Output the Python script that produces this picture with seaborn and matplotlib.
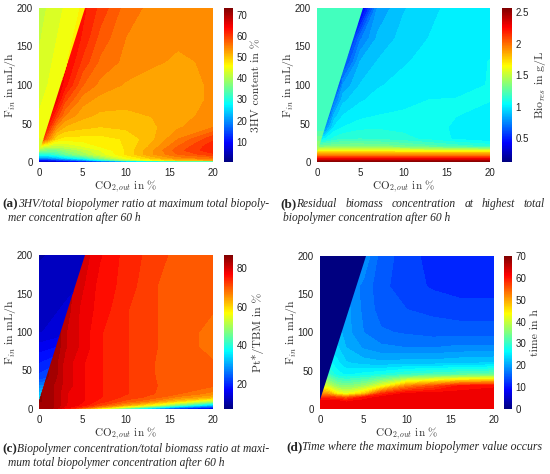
import numpy as np
import matplotlib
matplotlib.use("Agg")
import matplotlib.pyplot as plt
from matplotlib.patches import Polygon
from matplotlib.colors import Normalize, ListedColormap
from matplotlib.cm import ScalarMappable
from matplotlib.ticker import FormatStrFormatter
import seaborn as sns

sns.set_style("white")
plt.rcParams['font.family'] = ['Liberation Sans', 'DejaVu Sans']
plt.rcParams['mathtext.fontset'] = 'cm'

# MATLAB style jet
_f = np.linspace(0, 1, 256)
jet = ListedColormap(np.column_stack([
    np.clip(1.5 - np.abs(4 * _f - 3), 0, 1),
    np.clip(1.5 - np.abs(4 * _f - 2), 0, 1),
    np.clip(1.5 - np.abs(4 * _f - 1), 0, 1),
]))

# grid (CO2_out in %, F_in in mL/h) right of the feed boundary
XS = [0, 1, 2, 3, 5, 7, 10, 13, 16, 20]
YS = [0, 2, 5, 10, 15, 20, 30, 45, 60, 80, 100, 130, 160, 200]
# small grid for the triangle left of the boundary
LX = [0, 2.65, 5.3]
LY = [12, 40, 100, 200]
# boundary triangle
EDGE_X = [0, 0, 5.3]
EDGE_Y = [12, 200, 200]

# (a) 3HV content in %
hv_right = [
    [2, 2, 2, 2, 2, 3, 4, 5, 5, 5],
    [9, 9, 11, 13, 18, 27, 38, 45, 49, 51],
    [20, 20, 22, 25, 30, 37, 45, 50, 54, 56],
    [30, 30, 32, 35, 39, 43, 48, 53, 57, 60],
    [37, 36, 36, 38, 41, 44, 48, 53, 58, 62],
    [44, 42, 41, 42, 44, 46, 48, 52, 57, 62],
    [65, 55, 48, 47, 47, 47, 48, 51, 55, 60],
    [67, 62, 54, 51, 50, 49.5, 50, 51, 53, 55],
    [67, 66, 60, 55, 52, 51, 51, 51.5, 52.5, 54],
    [67, 67, 65, 59, 54, 52.5, 52, 52, 52.5, 53.5],
    [67, 67, 67, 63, 57, 54.5, 53, 52.5, 52.5, 53.5],
    [66, 66, 66, 65, 60, 56.5, 54.5, 53.5, 53, 53.5],
    [65, 65, 65, 65, 62, 58, 55, 54, 53.5, 53.5],
    [63, 63, 63, 63, 63, 60, 56, 54.5, 53.5, 53.5],
]
hv_left = [
    [42, 44, 46],
    [45, 46, 47],
    [43, 46, 47],
    [41.5, 44, 46.5],
]

# (b) residual biomass in g/L
bio_right = [
    [2.55] * 10,
    [2.45] * 10,
    [2.25] * 10,
    [1.9] * 10,
    [1.6, 1.6, 1.6, 1.6, 1.6, 1.6, 1.58, 1.56, 1.55, 1.55],
    [1.3, 1.32, 1.34, 1.35, 1.35, 1.34, 1.3, 1.25, 1.2, 1.15],
    [1.0, 1.05, 1.12, 1.15, 1.16, 1.15, 1.12, 1.08, 1.03, 0.98],
    [0.45, 0.75, 0.99, 1.04, 1.08, 1.09, 1.08, 1.06, 1.03, 0.99],
    [0.35, 0.55, 0.88, 0.98, 1.02, 1.04, 1.05, 1.05, 1.04, 1.02],
    [0.3, 0.3, 0.7, 0.9, 0.97, 1.0, 1.02, 1.04, 1.04, 1.04],
    [0.3, 0.3, 0.3, 0.8, 0.92, 0.97, 1.0, 1.02, 1.03, 1.04],
    [0.3, 0.3, 0.3, 0.55, 0.86, 0.92, 0.97, 1.0, 1.02, 1.04],
    [0.3, 0.3, 0.3, 0.3, 0.72, 0.87, 0.94, 0.98, 1.01, 1.03],
    [0.3, 0.3, 0.3, 0.3, 0.3, 0.8, 0.91, 0.96, 1.0, 1.02],
]
bio_left = [
    [1.5, 1.5, 1.5],
    [1.22, 1.22, 1.22],
    [1.2, 1.2, 1.18],
    [1.2, 1.2, 1.18],
]

# (c) Pt*/TBM in %
pt_right = [
    [84, 84, 80, 74, 62, 52, 38, 25, 15, 10],
    [84, 84, 82, 78, 72, 64, 52, 40, 28, 20],
    [84, 84, 82, 79, 76, 71, 64, 56, 45, 32],
    [85, 84, 82, 79, 77, 74, 70, 66, 60, 50],
    [85, 84, 82, 79, 77, 75, 72, 70, 66, 62],
    [85, 84, 82, 79, 77, 75, 73, 71, 69, 66],
    [85, 84, 82, 80, 77, 75, 73, 71, 70, 69],
    [85, 85, 83, 80, 77, 75, 73, 71, 69, 69],
    [85, 85, 83, 80, 77, 75, 73, 71, 69, 69],
    [85, 85, 84, 81, 78, 75, 73, 71, 70, 68],
    [84, 84, 84, 81, 78, 75, 73, 71, 70, 68],
    [83, 83, 83, 82, 78, 76, 73, 71, 70, 69],
    [82, 82, 82, 82, 79, 76, 74, 71, 70, 69],
    [80, 80, 80, 80, 80, 77, 74, 72, 70, 69],
]
pt_left = [
    [36, 36, 36],
    [22, 25, 28],
    [13, 14, 16],
    [11, 11.5, 12],
]

# (d) time of maximum biopolymer in h
t_right = [
    [62] * 10,
    [62] * 10,
    [62] * 10,
    [63, 62, 62, 61, 62, 62, 62, 62, 62, 62],
    [58, 58, 57, 55, 60, 62, 62, 62, 62, 62],
    [52, 50, 44, 42, 47, 58, 62, 62, 62, 62],
    [42, 40, 36, 35, 37, 42, 52, 56, 60, 61],
    [32, 30, 27, 26, 27, 28, 30, 31, 32, 33],
    [27, 27, 25, 23, 22, 21.5, 22, 22, 22.5, 23],
    [24, 24, 23, 21, 19, 18, 17.5, 17.5, 18, 18],
    [22, 22, 22, 20, 17.5, 16, 15.5, 15, 15, 15],
    [21, 21, 21, 20, 17, 15, 14, 13.5, 13, 13],
    [20, 20, 20, 19, 17, 14.5, 13, 12, 11.5, 11.5],
    [19, 19, 19, 19, 19, 15, 13, 11.5, 11, 11],
]
t_left = [
    [0, 0, 0],
    [0, 0, 0],
    [0, 0, 0],
    [0, 0, 0],
]

fig = plt.figure(figsize=(5.5, 4.74), dpi=100)

def panel(rect, crect, zr, zl, vmin, vmax, cticks, clabel):
    ax = fig.add_axes(rect)
    levels = np.linspace(vmin, vmax, 41)
    ax.contourf(XS, YS, zr, levels=levels, cmap=jet, extend='both')
    cs = ax.contourf(LX, LY, zl, levels=levels, cmap=jet, extend='both')
    tri = Polygon(np.column_stack([EDGE_X, EDGE_Y]), closed=True, transform=ax.transData)
    cs.set_clip_path(tri)
    ax.set_xlim(0, 20)
    ax.set_ylim(0, 200)
    ax.set_xticks([0, 5, 10, 15, 20])
    ax.set_yticks([0, 50, 100, 150, 200])
    ax.tick_params(length=0, labelsize=7, pad=4.5, colors='#222222')
    for s in ax.spines.values():
        s.set_visible(False)
    ax.set_xlabel(r'CO$_{2,out}$ in %', fontfamily='cmr10', fontsize=8,
                  labelpad=0, color='#333333')
    ax.set_ylabel(r'F$_{in}$ in mL/h', fontfamily='cmr10', fontsize=8.5,
                  color='#333333')
    ax.yaxis.set_label_coords(-0.12, 0.5)

    cax = fig.add_axes(crect)
    sm = ScalarMappable(norm=Normalize(vmin, vmax), cmap=jet)
    cb = fig.colorbar(sm, cax=cax, ticks=cticks)
    cb.outline.set_visible(False)
    cax.tick_params(length=0, labelsize=7, pad=2.5, colors='#222222')
    cax.yaxis.set_major_formatter(FormatStrFormatter('%g'))
    cb.set_label(clabel, fontfamily='cmr10', fontsize=8.5, labelpad=3, color='#333333')
    return ax

W, H = 550.0, 474.0
def r(l, t, w, h):
    return [l / W, (H - t - h) / H, w / W, h / H]

panel(r(39, 8, 174, 154), r(224, 8, 9, 154), hv_right, hv_left,
      0.4, 73.3, [10, 20, 30, 40, 50, 60, 70], '3HV content in %')
panel(r(317, 8, 173, 154), r(502, 8, 10, 154), bio_right, bio_left,
      0.12, 2.57, [0.5, 1, 1.5, 2, 2.5], r'Bio$_{res}$ in g/L')
panel(r(39, 255, 174, 154), r(224, 255, 9, 154), pt_right, pt_left,
      7.2, 86.7, [20, 40, 60, 80], 'Pt*/TBM in %')
panel(r(320, 256, 174, 153), r(504, 256, 8, 153), t_right, t_left,
      0, 70, [0, 10, 20, 30, 40, 50, 60, 70], 'time in h')

# captions
fig.canvas.draw()
renderer = fig.canvas.get_renderer()
cap_kw = dict(fontfamily='Liberation Serif', fontstyle='italic', va='baseline')

def caption(x, y, tag, line1, line2=None, x2=None, y2=None, size=8.3, right=None):
    t = fig.text(x / W, (H - y) / H, tag, fontfamily='Liberation Serif',
                 fontweight='bold', fontsize=9.5, va='baseline')
    start = t.get_window_extent(renderer).x1
    if right is None:
        fig.text(start / W, (H - y) / H, line1, fontsize=size, **cap_kw)
    else:
        # justified line
        words = line1.split()
        parts = [fig.text(0, (H - y) / H, w, fontsize=size, **cap_kw) for w in words]
        widths = [p.get_window_extent(renderer).width for p in parts]
        gap = (right - start - sum(widths)) / (len(words) - 1)
        pos = start
        for p, w in zip(parts, widths):
            p.set_x(pos / W)
            pos += w + gap
    if line2:
        fig.text(x2 / W, (H - y2) / H, line2, fontsize=size, **cap_kw)

caption(2, 207, '(a)', '3HV/total biopolymer ratio at maximum total biopoly-',
        'mer concentration after 60 h', 8, 221)
caption(280, 207, '(b)', 'Residual biomass concentration at highest total',
        'biopolymer concentration after 60 h', 283, 221, right=545)
caption(2, 452, '(c)', 'Biopolymer concentration/total biomass ratio at maxi-',
        'mum total biopolymer concentration after 60 h', 8, 466)
caption(286, 450, '(d)', 'Time where the maximum biopolymer value occurs', size=8.5)

fig.savefig('out.png', dpi=100)
